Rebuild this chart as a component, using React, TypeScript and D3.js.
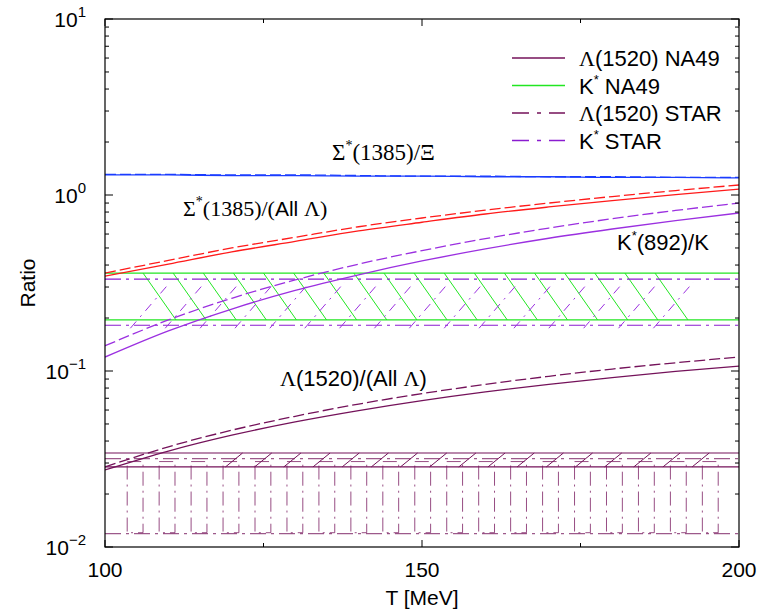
import React from 'react';
import * as d3 from 'd3';

const temps = [100, 110, 120, 130, 140, 150, 160, 170, 180, 190, 200];
const sigmaXiSolid = [1.30, 1.30, 1.29, 1.29, 1.28, 1.28, 1.27, 1.27, 1.26, 1.26, 1.25];
const sigmaXiDashed = [1.31, 1.31, 1.30, 1.30, 1.29, 1.28, 1.28, 1.27, 1.27, 1.26, 1.26];
const sigmaLamSolid = [0.346, 0.405, 0.475, 0.545, 0.625, 0.70, 0.78, 0.855, 0.93, 1.005, 1.08];
const sigmaLamDashed = [0.36, 0.425, 0.50, 0.575, 0.66, 0.74, 0.82, 0.90, 0.98, 1.06, 1.14];
const kstarKSolid = [0.120, 0.169, 0.225, 0.287, 0.352, 0.422, 0.494, 0.568, 0.641, 0.716, 0.79];
const kstarKDashed = [0.139, 0.195, 0.259, 0.329, 0.405, 0.483, 0.565, 0.649, 0.733, 0.817, 0.90];
const lam1520Solid = [0.0274, 0.0351, 0.0432, 0.0514, 0.0596, 0.0679, 0.0761, 0.0840, 0.0918, 0.0994, 0.1067];
const lam1520Dashed = [0.0285, 0.0371, 0.0461, 0.0553, 0.0649, 0.0744, 0.0839, 0.0933, 0.1026, 0.1114, 0.120];

// experimental bands [low, high]
const kstarNA49 = [0.195, 0.36];
const kstarSTAR = [0.182, 0.333];
const lamNA49 = [0.0285, 0.0342];
const lamSTAR = [0.0119, 0.0318];

const xTicksMajor = [100, 150, 200];
const xTicksMinor = [125, 175];
const yDecades = [0.01, 0.1, 1, 10];
const yExponents = ['\u22122', '\u22121', '0', '1'];

const RED = '#ff1a1a';
const BLUE = '#1a3cff';
const PURPLE = '#9b30e0';
const PURPLE_STAR = '#8a1cd0';
const GREEN = '#22e622';
const MAROON = '#74125a';

const SANS = '"Liberation Sans", Arial, sans-serif';
const SERIF = '"Liberation Serif", "Times New Roman", serif';

export default function App() {
  const L = 105, R = 739, T = 19, B = 547;
  const x = d3.scaleLinear().domain([100, 200]).range([L, R]);
  const y = d3.scaleLog().domain([0.01, 10]).range([B, T]);
  const line = (vals: number[]) =>
    d3.line<number>().x((_, i) => x(temps[i])).y((v) => y(v)).curve(d3.curveMonotoneX)(vals) || '';

  const dashed = '11,4';
  const dashDot = '16,5,3,5';

  const minorY: number[] = [];
  [0.01, 0.1, 1].forEach((d) => {
    for (let k = 2; k <= 9; k++) minorY.push(d * k);
  });

  // hatch line anchor temperatures
  const greenHatch = d3.range(18).map((i) => 106 + i * 4.75);
  const purpleHatch = d3.range(16).map((i) => 104 + i * 5.5);
  const maroonHatch = d3.range(17).map((i) => 119 + i * 4.6);
  const maroonRects = d3.range(19).map((i) => 103.5 + i * 5.04);

  const legend = [
    { label: 'Λ', rest: '(1520) NA49', greek: true, color: MAROON, dash: false, star: false },
    { label: 'K', rest: ' NA49', greek: false, color: GREEN, dash: false, star: true },
    { label: 'Λ', rest: '(1520) STAR', greek: true, color: MAROON, dash: true, star: false },
    { label: 'K', rest: ' STAR', greek: false, color: PURPLE_STAR, dash: true, star: true },
  ];

  return (
    <svg width={760} height={614} style={{ position: 'absolute', left: 0, top: 0, background: '#fff' }}>
      <defs>
        <clipPath id="plot">
          <rect x={L} y={T} width={R - L} height={B - T} />
        </clipPath>
      </defs>
      <g clipPath="url(#plot)" fill="none">
        {/* K* NA49 band */}
        <line x1={L} x2={R} y1={y(kstarNA49[0])} y2={y(kstarNA49[0])} stroke={GREEN} strokeWidth={1.3} />
        <line x1={L} x2={R} y1={y(kstarNA49[1])} y2={y(kstarNA49[1])} stroke={GREEN} strokeWidth={1.3} />
        {greenHatch.map((t, i) => (
          <line key={'g' + i} x1={x(t)} y1={y(kstarNA49[1])} x2={x(t + 5.2)} y2={y(kstarNA49[0])} stroke={GREEN} strokeWidth={1} />
        ))}
        {/* K* STAR band */}
        <line x1={L} x2={R} y1={y(kstarSTAR[0])} y2={y(kstarSTAR[0])} stroke={PURPLE_STAR} strokeWidth={1.2} strokeDasharray={dashDot} />
        <line x1={L} x2={R} y1={y(kstarSTAR[1])} y2={y(kstarSTAR[1])} stroke={PURPLE_STAR} strokeWidth={1.2} strokeDasharray={dashDot} />
        {purpleHatch.map((t, i) => (
          <line key={'p' + i} x1={x(t)} y1={y(kstarSTAR[0]) + 3} x2={x(t + 6.3)} y2={y(kstarSTAR[1]) + 3} stroke={PURPLE} strokeWidth={1} strokeDasharray="9,6,2,6" />
        ))}
        {/* Lambda(1520) STAR band */}
        <line x1={L} x2={R} y1={y(lamSTAR[0])} y2={y(lamSTAR[0])} stroke={MAROON} strokeOpacity={0.7} strokeWidth={1.2} strokeDasharray={dashDot} />
        <line x1={L} x2={R} y1={y(lamSTAR[1])} y2={y(lamSTAR[1])} stroke={MAROON} strokeOpacity={0.7} strokeWidth={1.2} strokeDasharray={dashDot} />
        {maroonRects.map((t, i) => (
          <rect key={'r' + i} x={x(t)} y={y(lamSTAR[1]) + 3} width={x(t + 2.5) - x(t)} height={y(lamSTAR[0]) - y(lamSTAR[1]) - 4} stroke={MAROON} strokeOpacity={0.75} strokeWidth={1} strokeDasharray="14,5,2,5" />
        ))}
        {/* Lambda(1520) NA49 band */}
        <line x1={L} x2={R} y1={y(lamNA49[0])} y2={y(lamNA49[0])} stroke={MAROON} strokeWidth={1.2} />
        <line x1={L} x2={R} y1={y(lamNA49[1])} y2={y(lamNA49[1])} stroke={MAROON} strokeWidth={1.2} />
        {maroonHatch.map((t, i) => (
          <line key={'m' + i} x1={x(t)} y1={y(lamNA49[0])} x2={x(t + 2.7)} y2={y(lamNA49[1])} stroke={MAROON} strokeWidth={1} />
        ))}
        {/* model curves */}
        <path d={line(sigmaXiSolid)} stroke={BLUE} strokeWidth={1.3} />
        <path d={line(sigmaXiDashed)} stroke={BLUE} strokeWidth={1.3} strokeDasharray={dashed} />
        <path d={line(sigmaLamSolid)} stroke={RED} strokeWidth={1.3} />
        <path d={line(sigmaLamDashed)} stroke={RED} strokeWidth={1.3} strokeDasharray={dashed} />
        <path d={line(kstarKSolid)} stroke={PURPLE} strokeWidth={1.3} />
        <path d={line(kstarKDashed)} stroke={PURPLE} strokeWidth={1.3} strokeDasharray={dashed} />
        <path d={line(lam1520Solid)} stroke={MAROON} strokeWidth={1.3} />
        <path d={line(lam1520Dashed)} stroke={MAROON} strokeWidth={1.3} strokeDasharray={dashed} />
      </g>

      {/* frame */}
      <rect x={L} y={T} width={R - L} height={B - T} fill="none" stroke="#000" strokeWidth={1.2} />
      {yDecades.map((d) => (
        <g key={'yt' + d}>
          <line x1={L} x2={L + 8} y1={y(d)} y2={y(d)} stroke="#000" />
          <line x1={R} x2={R - 8} y1={y(d)} y2={y(d)} stroke="#000" />
        </g>
      ))}
      {minorY.map((d) => (
        <g key={'ym' + d}>
          <line x1={L} x2={L + 4} y1={y(d)} y2={y(d)} stroke="#000" />
          <line x1={R} x2={R - 4} y1={y(d)} y2={y(d)} stroke="#000" />
        </g>
      ))}
      {xTicksMajor.map((t) => (
        <g key={'xt' + t}>
          <line x1={x(t)} x2={x(t)} y1={B} y2={B - 7} stroke="#000" />
          <line x1={x(t)} x2={x(t)} y1={T} y2={T + 7} stroke="#000" />
        </g>
      ))}
      {xTicksMinor.map((t) => (
        <g key={'xm' + t}>
          <line x1={x(t)} x2={x(t)} y1={B} y2={B - 4} stroke="#000" />
          <line x1={x(t)} x2={x(t)} y1={T} y2={T + 4} stroke="#000" />
        </g>
      ))}

      {/* tick labels */}
      <g fontFamily={SANS} fontSize={21} fill="#000">
        {xTicksMajor.map((t) => (
          <text key={'xl' + t} x={x(t)} y={B + 30} textAnchor="middle">{t}</text>
        ))}
        {yDecades.map((d, i) => (
          <text key={'yl' + d} x={86} y={y(d) + 8} textAnchor="end">
            10<tspan dy={-10} fontSize={15}>{yExponents[i]}</tspan>
          </text>
        ))}
        <text x={(L + R) / 2} y={605} textAnchor="middle">T [MeV]</text>
        <text transform={`translate(35,${(T + B) / 2}) rotate(-90)`} textAnchor="middle">Ratio</text>
      </g>

      {/* legend */}
      <g fontFamily={SANS} fontSize={22} fill="#000">
        {legend.map((e, i) => {
          const cy = 58 + i * 27.5;
          return (
            <g key={'lg' + i}>
              <line x1={512} x2={565} y1={cy} y2={cy} stroke={e.color} strokeWidth={1.3} strokeDasharray={e.dash ? '17,8,4,8' : undefined} />
              <text x={579} y={cy + 8}>
                {e.greek ? <tspan fontFamily={SERIF}>{e.label}</tspan> : <tspan>{e.label}</tspan>}
                {e.star ? <tspan dy={-10} fontSize={13}>*</tspan> : null}
                {e.star ? <tspan dy={10}>{e.rest}</tspan> : <tspan>{e.rest}</tspan>}
              </text>
            </g>
          );
        })}
      </g>

      {/* curve labels */}
      <g fontSize={22} fill="#000">
        <text x={332} y={160} fontFamily={SERIF} fontSize={23}>
          Σ<tspan dy={-10} fontSize={14}>*</tspan><tspan dy={10}>(1385)/Ξ</tspan>
        </text>
        <text x={183} y={216} fontFamily={SERIF}>
          Σ<tspan dy={-10} fontSize={14}>*</tspan><tspan dy={10}>(1385)/(</tspan><tspan fontFamily={SANS} fontSize={21}>All </tspan>Λ)
        </text>
        <text x={617} y={250} fontFamily={SANS} fontSize={22}>
          K<tspan dy={-10} fontSize={13}>*</tspan><tspan dy={10}>(892)/K</tspan>
        </text>
        <text x={280} y={386} fontFamily={SANS} fontSize={22}>
          <tspan fontFamily={SERIF}>Λ</tspan>(1520)/(All <tspan fontFamily={SERIF}>Λ</tspan>)
        </text>
      </g>
    </svg>
  );
}
